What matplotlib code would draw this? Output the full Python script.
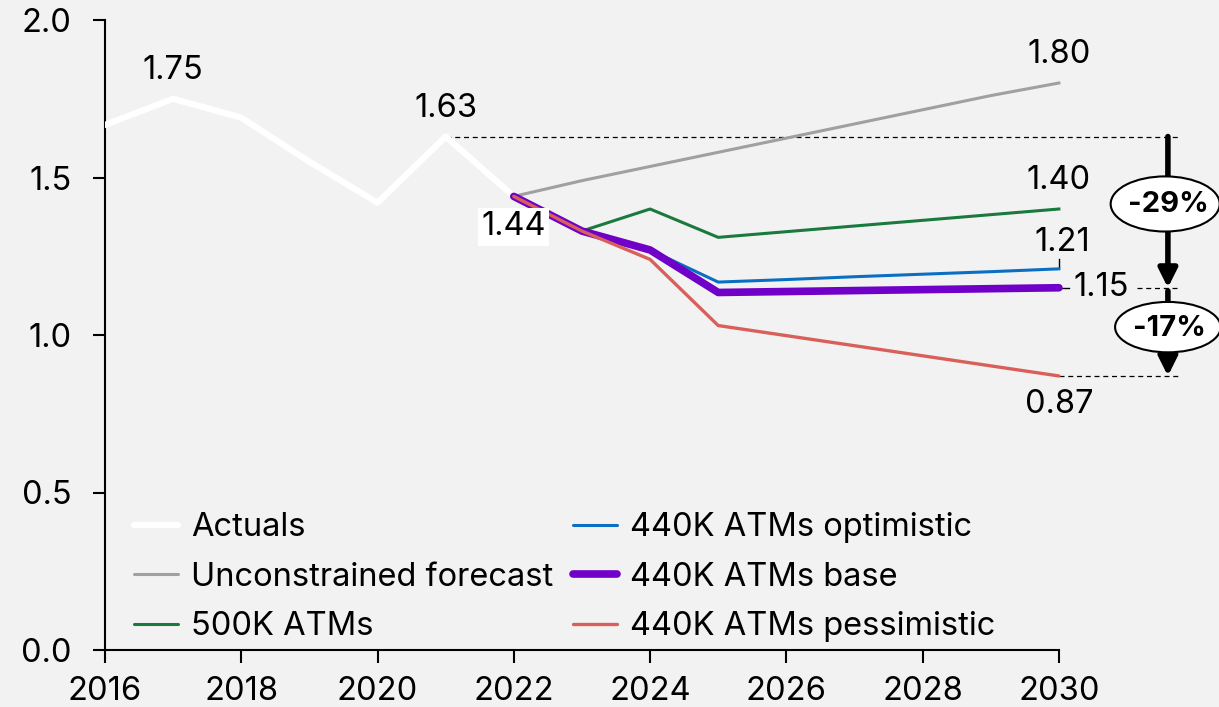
import matplotlib.pyplot as plt
from matplotlib.patches import Ellipse
import numpy as np

# data
years_act = [2016, 2017, 2018, 2019, 2020, 2021, 2022]
actuals = [1.667, 1.75, 1.69, 1.55, 1.42, 1.63, 1.44]

years_fc = [2022, 2023, 2024, 2025, 2026, 2027, 2028, 2029, 2030]
unconstrained = [1.44, 1.49, 1.535, 1.58, 1.625, 1.67, 1.715, 1.76, 1.80]
atm500 = [1.44, 1.33, 1.40, 1.31, 1.328, 1.346, 1.364, 1.382, 1.40]
optimistic = [1.44, 1.33, 1.27, 1.168, 1.176, 1.185, 1.193, 1.201, 1.21]
base = [1.44, 1.33, 1.27, 1.135, 1.138, 1.141, 1.144, 1.147, 1.15]
pessimistic = [1.44, 1.33, 1.24, 1.03, 0.998, 0.966, 0.934, 0.902, 0.87]

bg = '#f2f2f2'
fs = 23.5
plt.rcParams['font.family'] = ['Inter', 'DejaVu Sans']
plt.rcParams['font.size'] = fs

fig = plt.figure(figsize=(12.19, 7.07), dpi=100, facecolor=bg)
ax = fig.add_axes([105/1219, 57/707, 1114/1219, 630/707], facecolor=bg)

ax.plot(years_act, actuals, color='white', lw=4.5, label='Actuals', zorder=3)
ax.plot(years_fc, unconstrained, color='#a0a0a0', lw=2.2, label='Unconstrained forecast', zorder=3)
ax.plot(years_fc, atm500, color='#1a7a3e', lw=2.2, label='500K ATMs', zorder=3)
ax.plot(years_fc, optimistic, color='#0a6fc2', lw=2.2, label='440K ATMs optimistic', zorder=4)
ax.plot(years_fc, base, color='#7000c8', lw=5.5, label='440K ATMs base', zorder=5,
        solid_capstyle='round')
ax.plot(years_fc, pessimistic, color='#d9605a', lw=2.4, label='440K ATMs pessimistic', zorder=6,
        solid_capstyle='round')

ax.set_xlim(2016, 2032.35)
ax.set_ylim(0, 2.0)
ax.set_xticks(range(2016, 2031, 2))
ax.set_yticks([0, 0.5, 1.0, 1.5, 2.0])
ax.set_yticklabels(['0.0', '0.5', '1.0', '1.5', '2.0'])
ax.spines['top'].set_visible(False)
ax.spines['right'].set_visible(False)
ax.spines['bottom'].set_bounds(2016, 2030)
for s in ['left', 'bottom']:
    ax.spines[s].set_linewidth(1.5)
ax.tick_params(length=9, width=1.5, labelsize=fs)
ax.tick_params(axis='y', pad=15)
ax.tick_params(axis='x', pad=10)

# value labels
ax.text(2017, 1.79, '1.75', ha='center', va='bottom')
ax.text(2021, 1.67, '1.63', ha='center', va='bottom')
ax.text(2022, 1.343, '1.44', ha='center', va='center', zorder=7,
        bbox=dict(boxstyle='square,pad=0.1', fc='white', ec='none'))
ax.text(2030, 1.84, '1.80', ha='center', va='bottom')
ax.text(2030, 1.44, '1.40', ha='center', va='bottom')
ax.text(2030.05, 1.245, '1.21', ha='center', va='bottom')
ax.plot([2030, 2030], [1.215, 1.24], color='black', lw=1)
ax.plot([2030, 2030.15], [1.15, 1.15], color='black', lw=1)
ax.text(2030.22, 1.15, '1.15', ha='left', va='center')
ax.text(2030, 0.83, '0.87', ha='center', va='top')

# dashed guides
ax.plot([2021, 2031.75], [1.63, 1.63], color='black', ls='--', lw=0.9, dashes=(4, 3))
ax.plot([2031.15, 2031.75], [1.15, 1.15], color='black', ls='--', lw=0.9, dashes=(4, 3))
ax.plot([2030, 2031.75], [0.87, 0.87], color='black', ls='--', lw=0.9, dashes=(4, 3))

# arrows
xa = 2031.6
ax.annotate('', xy=(xa, 1.15), xytext=(xa, 1.63),
            arrowprops=dict(arrowstyle='-|>', lw=4, color='black', mutation_scale=28,
                            shrinkA=0, shrinkB=0))
ax.annotate('', xy=(xa, 0.87), xytext=(xa, 1.14),
            arrowprops=dict(arrowstyle='-|>', lw=4, color='black', mutation_scale=28,
                            shrinkA=0, shrinkB=0))
ax.add_patch(Ellipse((2031.56, 1.416), 1.6, 0.175, fc='white', ec='black', lw=1.5,
                     zorder=8, clip_on=False))
ax.add_patch(Ellipse((2031.6, 1.025), 1.55, 0.16, fc='white', ec='black', lw=1.5,
                     zorder=8, clip_on=False))
ax.text(2031.6, 1.413, '-29%', ha='center', va='center', fontweight='bold', fontsize=21,
        zorder=9)
ax.text(2031.62, 1.022, '-17%', ha='center', va='center', fontweight='bold', fontsize=21,
        zorder=9)

leg = ax.legend(loc='lower left', ncol=2, frameon=False, fontsize=fs, handlelength=1.35,
                handletextpad=0.4, columnspacing=0.6, labelspacing=0.56,
                bbox_to_anchor=(0.0, -0.034))
for h in leg.get_lines():
    h.set_solid_capstyle('round')

fig.savefig('out.png', dpi=100, facecolor=bg)
